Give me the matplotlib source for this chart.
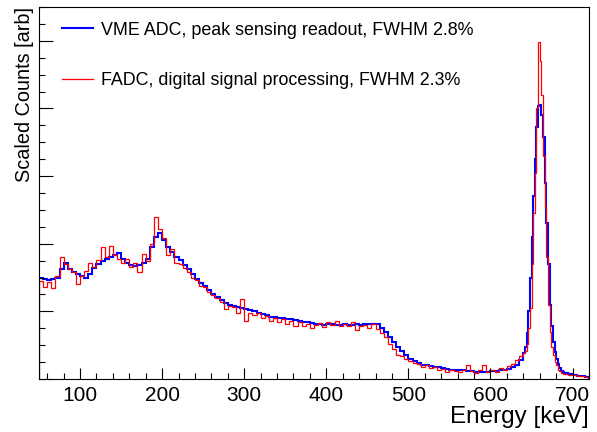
import numpy as np
import matplotlib
matplotlib.use("Agg")
import matplotlib.pyplot as plt
from matplotlib.ticker import MultipleLocator

plt.rcParams["font.family"] = ["Liberation Sans", "DejaVu Sans"]

# bin edges in keV: 5 keV bins, 2 keV bins over the photopeak
edges_low = np.arange(50, 640, 5)
edges_peak = np.arange(640, 690, 2)
edges_tail = np.arange(690, 721, 5)

# VME ADC, peak sensing (scaled counts)
vme_low = [
    1.50, 1.48, 1.46, 1.48, 1.50, 1.62, 1.72, 1.63, 1.58, 1.55,
    1.52, 1.50, 1.55, 1.64, 1.70, 1.75, 1.78, 1.81, 1.84, 1.86,
    1.77, 1.71, 1.69, 1.67, 1.69, 1.72, 1.78, 1.95, 2.10, 2.16,
    2.06, 1.95, 1.88, 1.81, 1.76, 1.69, 1.62, 1.55, 1.48, 1.42,
    1.37, 1.32, 1.26, 1.21, 1.17, 1.13, 1.10, 1.08, 1.06, 1.05,
    1.04, 1.02, 1.00, 0.98, 0.96, 0.94, 0.92, 0.91, 0.90, 0.90,
    0.89, 0.88, 0.87, 0.86, 0.85, 0.84, 0.83, 0.82, 0.81, 0.80,
    0.81, 0.81, 0.80, 0.80, 0.81, 0.80, 0.80, 0.81, 0.80, 0.81,
    0.81, 0.82, 0.82, 0.76, 0.69, 0.62, 0.54, 0.47, 0.41, 0.35,
    0.30, 0.26, 0.23, 0.21, 0.20, 0.19, 0.18, 0.17, 0.16, 0.15,
    0.14, 0.14, 0.13, 0.13, 0.12, 0.12, 0.11, 0.11, 0.11, 0.11,
    0.12, 0.12, 0.13, 0.14, 0.15, 0.17, 0.21, 0.28,
]
vme_peak = [
    0.38, 0.48, 0.68, 1.00, 1.50, 2.10, 2.70, 3.25, 3.72, 4.03,
    4.05, 3.90, 3.58, 2.90, 2.30, 1.70, 1.10, 0.78, 0.55, 0.40,
    0.30, 0.22, 0.16, 0.12, 0.10,
]
vme_tail = [0.09, 0.07, 0.06, 0.05, 0.04, 0.03]

# FADC, digital signal processing (scaled counts)
fadc_low = [
    1.45, 1.36, 1.44, 1.34, 1.52, 1.80, 1.70, 1.62, 1.58, 1.40,
    1.52, 1.60, 1.72, 1.66, 1.76, 1.95, 1.80, 1.96, 1.84, 1.78,
    1.72, 1.78, 1.66, 1.72, 1.58, 1.85, 1.74, 2.00, 2.40, 2.22,
    2.08, 1.84, 1.92, 1.72, 1.70, 1.64, 1.58, 1.50, 1.46, 1.38,
    1.36, 1.28, 1.24, 1.20, 1.14, 1.04, 1.08, 1.06, 0.98, 1.18,
    0.86, 0.98, 0.94, 0.97, 0.90, 0.93, 0.86, 0.90, 0.84, 0.88,
    0.82, 0.86, 0.78, 0.84, 0.79, 0.82, 0.76, 0.80, 0.83, 0.77,
    0.84, 0.80, 0.86, 0.78, 0.82, 0.79, 0.84, 0.72, 0.78, 0.80,
    0.76, 0.82, 0.74, 0.68, 0.62, 0.52, 0.45, 0.36, 0.34, 0.30,
    0.26, 0.24, 0.22, 0.17, 0.20, 0.16, 0.18, 0.14, 0.15, 0.10,
    0.13, 0.12, 0.11, 0.14, 0.21, 0.12, 0.09, 0.13, 0.21, 0.11,
    0.14, 0.11, 0.16, 0.14, 0.19, 0.22, 0.28, 0.34,
]
fadc_peak = [
    0.38, 0.42, 0.52, 0.75, 1.05, 1.70, 2.45, 3.05, 4.00, 4.98,
    4.70, 4.20, 3.30, 2.55, 1.80, 1.10, 0.70, 0.48, 0.35, 0.25,
    0.20, 0.14, 0.12, 0.09, 0.08,
]
fadc_tail = [0.08, 0.06, 0.06, 0.04, 0.04, 0.03]

labels = [
    "VME ADC, peak sensing readout, FWHM 2.8%",
    "FADC, digital signal processing, FWHM 2.3%",
]

edges = np.concatenate([edges_low, edges_peak, edges_tail])
vme = np.concatenate([vme_low, vme_peak, vme_tail])
fadc = np.concatenate([fadc_low, fadc_peak, fadc_tail])

fig = plt.figure(figsize=(5.97, 4.32), dpi=100)
ax = fig.add_axes([0.0653, 0.1227, 0.9213, 0.8611])

ax.stairs(vme, edges, color="#0000ff", linewidth=1.5, baseline=0, label=labels[0])
ax.stairs(fadc, edges, color="#ff0000", linewidth=0.9, baseline=0, label=labels[1])

ax.set_xlim(50, 720)
ax.set_ylim(0, 5.5)

ax.xaxis.set_major_locator(MultipleLocator(100))
ax.xaxis.set_minor_locator(MultipleLocator(20))
ax.yaxis.set_major_locator(MultipleLocator(1))
ax.yaxis.set_minor_locator(MultipleLocator(0.25))
ax.tick_params(which="both", direction="in", top=False, right=False, width=0.8)
ax.tick_params(axis="x", which="major", length=8, labelsize=15, pad=5)
ax.tick_params(axis="x", which="minor", length=4)
ax.tick_params(axis="y", which="major", length=10, labelleft=False)
ax.tick_params(axis="y", which="minor", length=4.5)
for s in ax.spines.values():
    s.set_linewidth(0.8)

ax.set_xlabel("Energy [keV]", fontsize=17.5, loc="right", labelpad=1)
ax.set_ylabel("Scaled Counts [arb]", fontsize=14.3, loc="top", labelpad=0)

ax.legend(loc="upper left", bbox_to_anchor=(0.042, 0.9606), frameon=False,
          fontsize=12.9, borderpad=0, borderaxespad=0, handlelength=1.73,
          handletextpad=0.45, labelspacing=1.87)

fig.savefig("out.png", dpi=100)
